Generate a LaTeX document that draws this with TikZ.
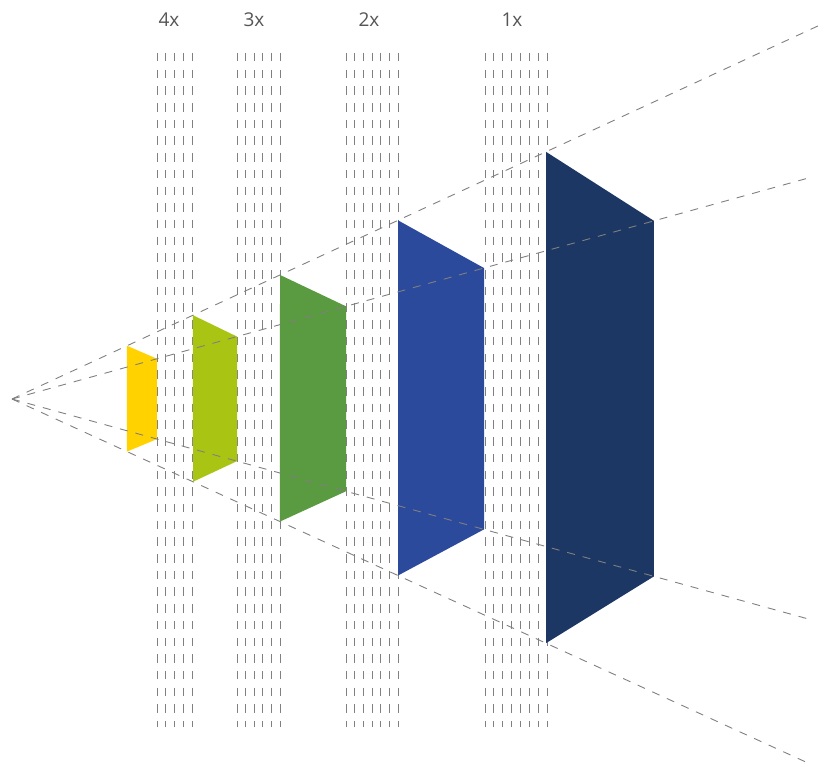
\documentclass[tikz,border=0pt]{standalone}
\usepackage{fontspec}
\setmainfont{Open Sans}
\usetikzlibrary{calc}
\definecolor{LensYellow}{HTML}{FFD200}
\definecolor{LensLime}{HTML}{AAC414}
\definecolor{LensGreen}{HTML}{5A9A40}
\definecolor{LensBlue}{HTML}{2B4A9C}
\definecolor{LensNavy}{HTML}{1C3763}
\definecolor{GridGray}{HTML}{808080}
\definecolor{LabelGray}{HTML}{555555}
\begin{document}
\begin{tikzpicture}[x=1pt,y=-1pt,
  gridline/.style={draw=GridGray,line width=1pt,dash pattern=on 8.5pt off 8.2pt},
  ray/.style={draw=GridGray,line width=0.9pt,dash pattern=on 8pt off 8pt},
  zoomlbl/.style={text=LabelGray,font=\fontsize{19}{22}\selectfont}]
\useasboundingbox (0,0) rectangle (830,767);
\coordinate (apex) at (12,399);
\coordinate (ou) at (820,25);\coordinate (iu) at (812,177);\coordinate (il) at (812,620);\coordinate (ol) at (808,763);
% dashed columns between the slabs
\foreach \xa/\xb/\n in {157/192/5,237/280/6,346/398/7,485/547/8}{
  \foreach \i in {1,...,\n}{\pgfmathsetmacro\xx{\xa+(\i-1)*(\xb-\xa)/(\n-1)}\draw[gridline] (\xx,53)--(\xx,727);}}
% slabs
\foreach \xl/\xr/\c in {127/157/LensYellow,193/237/LensLime,280/346/LensGreen,398/484/LensBlue,546/654/LensNavy}{
  \fill[\c] ($(apex)!{(\xl-12)/808}!(ou)$)--($(apex)!{(\xr-12)/800}!(iu)$)--($(apex)!{(\xr-12)/800}!(il)$)--($(apex)!{(\xl-12)/796}!(ol)$)--cycle;}
% rays
\draw[ray] (apex)--(ou);\draw[ray] (apex)--(iu);\draw[ray] (apex)--(il);\draw[ray] (apex)--(ol);
\node[zoomlbl] (l4) at (169,20) {4x};
\node[zoomlbl] (l3) at (254,20) {3x};
\node[zoomlbl] (l2) at (369,20) {2x};
\node[zoomlbl] (l1) at (512,20) {1x};
\end{tikzpicture}
\end{document}
